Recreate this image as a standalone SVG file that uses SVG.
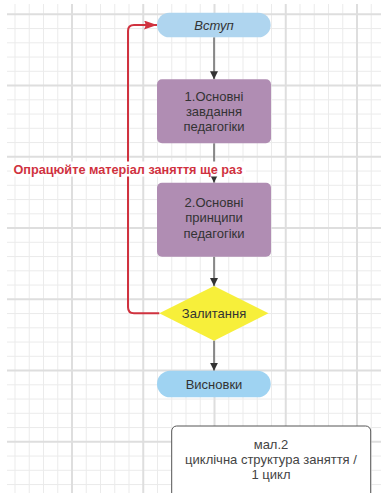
<svg xmlns="http://www.w3.org/2000/svg" width="385" height="493" viewBox="0 0 385 493">
<defs>
<style>
.minor{stroke:#ebebeb;stroke-width:1;fill:none}
.major{stroke:#dedede;stroke-width:2;fill:none}
.conn{stroke:#333333;stroke-width:1;fill:none}
.loop{stroke:#d0323f;stroke-width:2;fill:none}
.t{font-family:"Liberation Sans",Arial,sans-serif;font-size:13px;fill:#333333;text-anchor:middle}
.cap{font-family:"Liberation Sans",Arial,sans-serif;font-size:13px;fill:#444444;text-anchor:middle}
.lbl{font-family:"Liberation Sans",Arial,sans-serif;font-size:12.7px;font-weight:bold;fill:#d0323f;text-anchor:middle}
</style>
<marker id="ah" markerUnits="userSpaceOnUse" markerWidth="8" markerHeight="10" refX="8" refY="4" orient="auto">
<path d="M0,0 L8,4 L0,8 Z" fill="#333333"/>
</marker>
<marker id="ahr" markerUnits="userSpaceOnUse" markerWidth="14" markerHeight="10" refX="13" refY="4.5" orient="auto">
<path d="M0,0 L13,4.5 L0,9 Q3,4.5 0,0 Z" fill="#d0323f"/>
</marker>
</defs>
<rect width="385" height="493" fill="#ffffff"/>
<g id="grid">
<path class="minor" d="M15,4V493M29.25,4V493M43.5,4V493M57.75,4V493M86.25,4V493M100.5,4V493M114.75,4V493M129,4V493M157.5,4V493M171.75,4V493M186,4V493M200.25,4V493M228.75,4V493M243,4V493M257.25,4V493M271.5,4V493M300,4V493M314.25,4V493M328.5,4V493M342.75,4V493M371.25,4V493
M7,28.55H381M7,42.8H381M7,57.05H381M7,71.3H381M7,99.8H381M7,114.05H381M7,128.3H381M7,142.55H381M7,171.05H381M7,185.3H381M7,199.55H381M7,213.8H381M7,242.3H381M7,256.55H381M7,270.8H381M7,285.05H381M7,313.55H381M7,327.8H381M7,342.05H381M7,356.3H381M7,384.8H381M7,399.05H381M7,413.3H381M7,427.55H381M7,456.05H381M7,470.3H381M7,484.55H381"/>
<path class="major" d="M72,4V493M143.25,4V493M214.5,4V493M285.75,4V493M357,4V493
M7,14.3H381M7,85.55H381M7,156.8H381M7,228.05H381M7,299.3H381M7,370.55H381M7,441.8H381"/>
</g>
<g id="connectors">
<path class="conn" d="M214,37.3V79.3" marker-end="url(#ah)"/>
<path class="conn" d="M214,143.3V182.7" marker-end="url(#ah)"/>
<path class="conn" d="M214,256.7V286" marker-end="url(#ah)"/>
<path class="conn" d="M214,340.7V370.7" marker-end="url(#ah)"/>
<path class="loop" d="M159.3,313.3H134Q128,313.3 128,307.3V31Q128,25 134,25H157" marker-end="url(#ahr)"/>
<rect x="11" y="161.5" width="235" height="15" fill="#ffffff"/>
<text class="lbl" x="128" y="173.7">Опрацюйте матеріал заняття ще раз</text>
</g>
<g id="vstup">
<rect x="157" y="12.7" width="113.7" height="24.6" rx="12.3" fill="#afd5ef"/>
<text class="t" x="214" y="29.6" font-style="italic">Вступ</text>
</g>
<g id="box1">
<rect x="157" y="79.3" width="114" height="64" rx="5" fill="#b08db3"/>
<text class="t" x="214" y="101.2">1.Основні</text>
<text class="t" x="214" y="115.7">завдання</text>
<text class="t" x="214" y="130.7">педагогіки</text>
</g>
<g id="box2">
<rect x="157" y="182.7" width="114" height="74" rx="5" fill="#b08db3"/>
<text class="t" x="214" y="207.2">2.Основні</text>
<text class="t" x="214" y="221.9">принципи</text>
<text class="t" x="214" y="237.9">педагогіки</text>
</g>
<g id="zalytannia">
<path d="M214,286 L268.5,313.3 L214,340.7 L159.3,313.3 Z" fill="#f7ef3a"/>
<text class="t" x="214" y="317.9">Залитання</text>
</g>
<g id="vysnovky">
<rect x="157" y="370.7" width="113.7" height="26.6" rx="13.3" fill="#9fd3f2"/>
<text class="t" x="214" y="388.6">Висновки</text>
</g>
<g id="caption">
<rect x="171.7" y="426" width="199" height="80" rx="5" fill="#ffffff" stroke="#555555" stroke-width="1"/>
<text class="cap" x="271" y="448.6">мал.2</text>
<text class="cap" x="271" y="463.9">циклічна структура заняття /</text>
<text class="cap" x="271" y="478.9">1 цикл</text>
</g>
</svg>
